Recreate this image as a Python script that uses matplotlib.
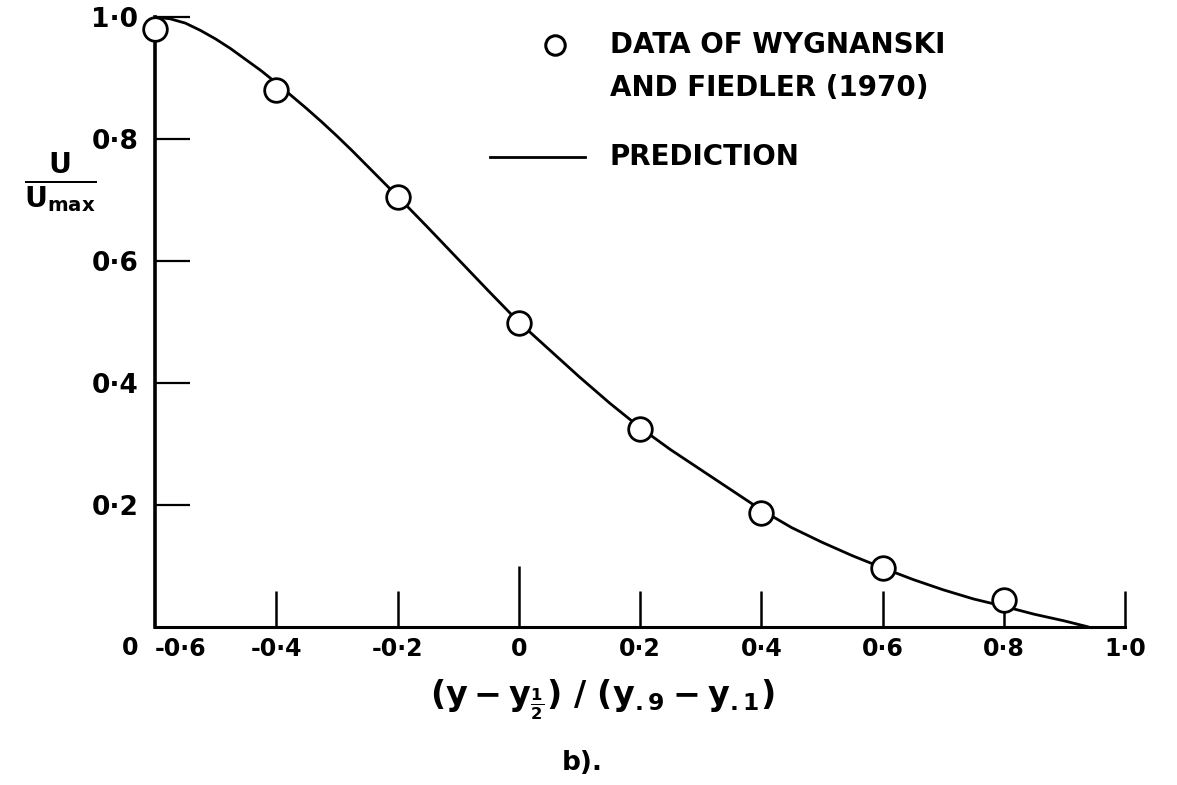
import matplotlib
matplotlib.use("Agg")
import matplotlib.pyplot as plt
from matplotlib.lines import Line2D

# Measured mean-velocity profile (Wygnanski & Fiedler, 1970)
x_data = [-0.6, -0.4, -0.2, 0.0, 0.2, 0.4, 0.6, 0.8]
u_data = [0.98, 0.88, 0.705, 0.498, 0.325, 0.187, 0.097, 0.044]

# Predicted profile
x_pred = [-0.6, -0.575, -0.55, -0.525, -0.5, -0.475, -0.45, -0.425, -0.4,
          -0.375, -0.35, -0.325, -0.3, -0.275, -0.25, -0.225, -0.2, -0.15,
          -0.1, -0.05, 0.0, 0.05, 0.1, 0.15, 0.2, 0.25, 0.3, 0.35, 0.4,
          0.45, 0.5, 0.55, 0.6, 0.65, 0.7, 0.75, 0.8, 0.85, 0.9, 0.94]
u_pred = [1.0, 0.997, 0.99, 0.978, 0.964, 0.948, 0.93, 0.912, 0.892,
          0.871, 0.85, 0.828, 0.805, 0.781, 0.756, 0.731, 0.706, 0.655,
          0.603, 0.551, 0.5, 0.455, 0.41, 0.367, 0.327, 0.291, 0.258, 0.225,
          0.192, 0.163, 0.139, 0.117, 0.097, 0.078, 0.061, 0.046, 0.034,
          0.021, 0.01, 0.0]

x_ticks = [-0.6, -0.4, -0.2, 0.0, 0.2, 0.4, 0.6, 0.8, 1.0]
x_tick_labels = ["-0·6", "-0·4", "-0·2", "0", "0·2", "0·4", "0·6", "0·8", "1·0"]
y_ticks = [0.2, 0.4, 0.6, 0.8, 1.0]
y_tick_labels = ["0·2", "0·4", "0·6", "0·8", "1·0"]

W, H = 1177, 785
plt.rcParams["font.family"] = ["DejaVu Sans"]
plt.rcParams["font.weight"] = "bold"
plt.rcParams["mathtext.fontset"] = "dejavusans"
plt.rcParams["mathtext.default"] = "bf"

fig = plt.figure(figsize=(W / 100, H / 100), dpi=100)
ax = fig.add_axes([155 / W, (H - 627) / H, 970 / W, 610 / H])


def fx(px):
    return px / W


def fy(py):
    return 1 - py / H


ax.plot(x_pred, u_pred, color="black", lw=2.0, solid_capstyle="round",
        solid_joinstyle="round", clip_on=False, zorder=2)
ax.plot(x_data, u_data, ls="none", marker="o", ms=17, mfc="white",
        mec="black", mew=2.0, clip_on=False, zorder=3)

ax.set_xlim(-0.6, 1.0)
ax.set_ylim(0.0, 1.0)

for side in ("top", "right"):
    ax.spines[side].set_visible(False)
ax.spines["left"].set_linewidth(2.6)
ax.spines["bottom"].set_linewidth(2.2)

ax.set_xticks(x_ticks)
ax.set_xticklabels(x_tick_labels, fontsize=17, fontweight="bold")
ax.set_yticks(y_ticks)
ax.set_yticklabels(y_tick_labels, fontsize=19, fontweight="bold")
ax.tick_params(axis="x", direction="in", length=26, width=1.8, pad=7)
ax.tick_params(axis="y", direction="in", length=25, width=1.6, pad=12)

# longer tick at the origin of the abscissa, none drawn along the left spine
xt = ax.xaxis.get_major_ticks()
xt[0].tick1line.set_markersize(0)
xt[3].tick1line.set_markersize(44)
xt[0].label1.set_horizontalalignment("left")

# origin label
fig.text(fx(130), fy(648), "0", fontsize=17, fontweight="bold",
         ha="center", va="center")

# axis titles
fig.text(fx(60), fy(182), r"$\frac{\mathbf{U}}{\mathbf{U}_{\mathbf{max}}}$",
         fontsize=29, ha="center", va="center")
fig.text(fx(602), fy(700),
         r"$(y - y_{\frac{1}{2}})\ /\ (y_{.9} - y_{.1})$",
         fontsize=24, ha="center", va="center")
fig.text(fx(582), fy(763), "b).", fontsize=19, fontweight="bold",
         ha="center", va="center")

# key
fig.add_artist(Line2D([fx(555)], [fy(45)], ls="none", marker="o", ms=14,
                      mfc="white", mec="black", mew=2.2))
fig.text(fx(610), fy(45), "DATA OF WYGNANSKI", fontsize=20,
         fontweight="bold", ha="left", va="center")
fig.text(fx(610), fy(88), "AND FIEDLER (1970)", fontsize=20,
         fontweight="bold", ha="left", va="center")
fig.add_artist(Line2D([fx(490), fx(585)], [fy(157), fy(157)],
                      color="black", lw=2.0))
fig.text(fx(610), fy(157), "PREDICTION", fontsize=20, fontweight="bold",
         ha="left", va="center")

fig.savefig("out.png", dpi=100, facecolor="white")
